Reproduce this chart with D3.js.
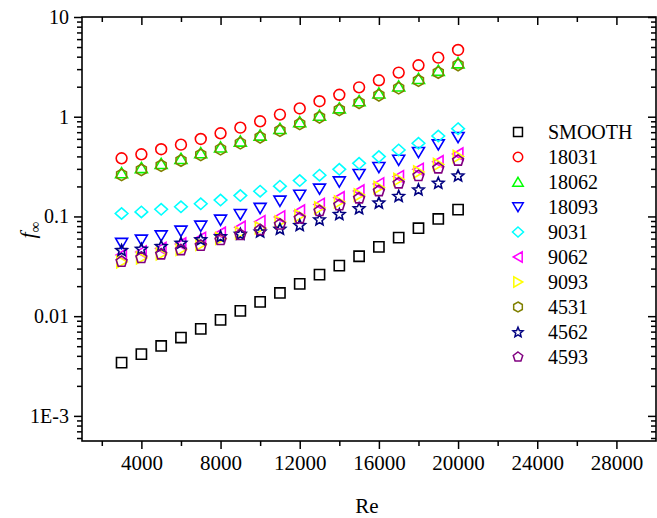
<!DOCTYPE html>
<html>
<head>
<meta charset="utf-8">
<script src="https://cdn.jsdelivr.net/npm/d3@7"></script>
<style>
    body { margin: 0; background: #fff; }
    svg { display: block; }
</style>
</head>
<body>
<svg id="chart"></svg>
<script>
// data
const reValues = [3000, 4000, 5000, 6000, 7000, 8000, 9000, 10000, 11000, 12000, 13000, 14000, 15000, 16000, 17000, 18000, 19000, 20000];

const smooth = [0.00342, 0.00416, 0.00503, 0.00610, 0.00745, 0.00917, 0.0113, 0.0139, 0.0171, 0.0211, 0.0261, 0.0321, 0.0399, 0.0495, 0.0613, 0.0762, 0.0944, 0.117];
const s18031 = [0.383, 0.420, 0.472, 0.525, 0.598, 0.682, 0.777, 0.900, 1.05, 1.21, 1.43, 1.66, 1.97, 2.32, 2.77, 3.28, 3.91, 4.67];
const s18062 = [0.273, 0.307, 0.338, 0.380, 0.433, 0.494, 0.567, 0.651, 0.759, 0.886, 1.03, 1.22, 1.44, 1.72, 2.02, 2.41, 2.90, 3.45];
const s18093 = [0.0539, 0.0581, 0.0642, 0.0716, 0.0803, 0.0922, 0.105, 0.121, 0.143, 0.164, 0.189, 0.223, 0.265, 0.311, 0.368, 0.440, 0.525, 0.622];
const s9031 = [0.107, 0.111, 0.118, 0.125, 0.134, 0.146, 0.162, 0.179, 0.201, 0.229, 0.259, 0.297, 0.341, 0.398, 0.464, 0.542, 0.641, 0.759];
const s9062 = [0.0411, 0.0441, 0.0478, 0.0530, 0.0604, 0.0679, 0.0780, 0.0887, 0.0989, 0.1135, 0.132, 0.154, 0.180, 0.212, 0.251, 0.297, 0.354, 0.423];
const s9093 = [0.0350, 0.0384, 0.0421, 0.0467, 0.0524, 0.0602, 0.0684, 0.0767, 0.0881, 0.102, 0.122, 0.140, 0.164, 0.195, 0.235, 0.279, 0.332, 0.400];
const s4531 = [0.261, 0.293, 0.323, 0.363, 0.414, 0.472, 0.542, 0.622, 0.725, 0.846, 0.987, 1.17, 1.38, 1.64, 1.93, 2.30, 2.77, 3.30];
const s4562 = [0.0461, 0.0475, 0.0506, 0.0546, 0.0591, 0.0633, 0.0671, 0.0707, 0.0753, 0.0822, 0.0937, 0.106, 0.121, 0.138, 0.161, 0.187, 0.218, 0.258];
const s4593 = [0.0352, 0.0384, 0.0418, 0.0461, 0.0510, 0.0581, 0.0653, 0.0732, 0.0831, 0.0959, 0.1135, 0.130, 0.152, 0.180, 0.215, 0.255, 0.304, 0.364];

const seriesNames = ["SMOOTH", "18031", "18062", "18093", "9031", "9062", "9093", "4531", "4562", "4593"];
const seriesValues = [smooth, s18031, s18062, s18093, s9031, s9062, s9093, s4531, s4562, s4593];
const seriesColors = ["#000000", "#ff0000", "#00ff00", "#0000ff", "#00ffff", "#ff00ff", "#ffff00", "#808000", "#000080", "#800080"];
const seriesShapes = ["square", "circle", "triUp", "triDown", "diamond", "triLeft", "triRight", "hexagon", "star", "pentagon"];

const xMajorTicks = [4000, 8000, 12000, 16000, 20000, 24000, 28000];
const xMinorTicks = [2000, 6000, 10000, 14000, 18000, 22000, 26000];
const yMajorTicks = [0.001, 0.01, 0.1, 1, 10];
const yTickLabels = ["1E-3", "0.01", "0.1", "1", "10"];

const width = 657, height = 518;
const plotLeft = 82, plotRight = 656, plotTop = 17, plotBottom = 441;
const serif = "Liberation Serif";

const svg = d3.select("#chart")
    .attr("width", width)
    .attr("height", height)
    .attr("font-family", serif);

const x = d3.scaleLinear().domain([1000, 30000]).range([plotLeft, plotRight]);
const y = d3.scaleLog().domain([5.6e-4, 10]).range([plotBottom, plotTop]);

// minor log ticks 2..9 per decade
const yMinorTicks = [];
[1e-4, 1e-3, 1e-2, 1e-1, 1].forEach(dec => {
    for (let k = 2; k <= 9; k++) {
        const v = dec * k;
        if (v >= y.domain()[0] && v <= y.domain()[1]) yMinorTicks.push(v);
    }
});

// marker path builder
function poly(pts) {
    return "M" + pts.map(p => p[0].toFixed(2) + "," + p[1].toFixed(2)).join("L") + "Z";
}
function regular(n, r, startDeg) {
    const pts = [];
    for (let k = 0; k < n; k++) {
        const a = (startDeg + k * 360 / n) * Math.PI / 180;
        pts.push([r * Math.cos(a), r * Math.sin(a)]);
    }
    return pts;
}
function shapePath(shape, s) {
    const h = s / 2;
    switch (shape) {
        case "square": return poly([[-h * 0.85, -h * 0.85], [h * 0.85, -h * 0.85], [h * 0.85, h * 0.85], [-h * 0.85, h * 0.85]]);
        case "circle": return d3.symbol(d3.symbolCircle, Math.PI * (h * 0.9) * (h * 0.9))();
        case "triUp": return poly([[0, -h * 0.9], [h, h * 0.8], [-h, h * 0.8]]);
        case "triDown": return poly([[0, h * 0.9], [h, -h * 0.8], [-h, -h * 0.8]]);
        case "triLeft": return poly([[-h * 0.9, 0], [h * 0.8, -h], [h * 0.8, h]]);
        case "triRight": return poly([[h * 0.9, 0], [-h * 0.8, -h], [-h * 0.8, h]]);
        case "diamond": return poly([[0, -h * 0.95], [h * 1.05, 0], [0, h * 0.95], [-h * 1.05, 0]]);
        case "hexagon": return poly(regular(6, h * 0.95, -90));
        case "pentagon": return poly(regular(5, h * 0.95, -90));
        case "star": {
            const pts = [];
            for (let k = 0; k < 10; k++) {
                const r = k % 2 === 0 ? h : h * 0.45;
                const a = (-90 + k * 36) * Math.PI / 180;
                pts.push([r * Math.cos(a), r * Math.sin(a) + h * 0.1]);
            }
            return poly(pts);
        }
    }
}

// axes
const axisColor = "#000";
const gAxes = svg.append("g");

function styleAxis(g) {
    g.attr("font-family", serif);
    g.select(".domain").remove();
    g.selectAll("line").attr("stroke", axisColor).attr("stroke-width", 1.5);
}

// bottom
gAxes.append("g")
    .attr("transform", `translate(0,${plotBottom})`)
    .call(d3.axisBottom(x).tickValues(xMajorTicks).tickSize(8).tickFormat(d3.format("d")))
    .call(styleAxis)
    .call(g => g.selectAll("text")
        .attr("y", 14)
        .attr("dy", "0.71em")
        .attr("font-family", serif)
        .attr("font-size", 21)
        .attr("fill", "#000"));
gAxes.append("g")
    .attr("transform", `translate(0,${plotBottom})`)
    .call(d3.axisBottom(x).tickValues(xMinorTicks).tickSize(5).tickFormat(""))
    .call(styleAxis);

// top (ticks inward)
gAxes.append("g")
    .attr("transform", `translate(0,${plotTop})`)
    .call(d3.axisTop(x).tickValues(xMajorTicks).tickSize(-8).tickFormat(""))
    .call(styleAxis);
gAxes.append("g")
    .attr("transform", `translate(0,${plotTop})`)
    .call(d3.axisTop(x).tickValues(xMinorTicks).tickSize(-5).tickFormat(""))
    .call(styleAxis);

// left
gAxes.append("g")
    .attr("transform", `translate(${plotLeft},0)`)
    .call(d3.axisLeft(y).tickValues(yMajorTicks).tickSize(8)
        .tickFormat(d => yTickLabels[yMajorTicks.indexOf(d)]))
    .call(styleAxis)
    .call(g => g.selectAll("text")
        .attr("x", -13)
        .attr("font-family", serif)
        .attr("font-size", 20)
        .attr("fill", "#000"));
gAxes.append("g")
    .attr("transform", `translate(${plotLeft},0)`)
    .call(d3.axisLeft(y).tickValues(yMinorTicks).tickSize(5).tickFormat(""))
    .call(styleAxis);

// right (ticks inward)
gAxes.append("g")
    .attr("transform", `translate(${plotRight},0)`)
    .call(d3.axisRight(y).tickValues(yMajorTicks).tickSize(-8).tickFormat(""))
    .call(styleAxis);
gAxes.append("g")
    .attr("transform", `translate(${plotRight},0)`)
    .call(d3.axisRight(y).tickValues(yMinorTicks).tickSize(-5).tickFormat(""))
    .call(styleAxis);

// frame
svg.append("rect")
    .attr("x", plotLeft)
    .attr("y", plotTop)
    .attr("width", plotRight - plotLeft)
    .attr("height", plotBottom - plotTop)
    .attr("fill", "none")
    .attr("stroke", axisColor)
    .attr("stroke-width", 1.6);

// data markers
const gData = svg.append("g");
seriesNames.forEach((name, si) => {
    const pts = seriesValues[si].map((v, i) => [reValues[i], v]);
    gData.append("g")
        .attr("class", "series")
        .selectAll("path")
        .data(pts)
        .join("path")
        .attr("transform", d => `translate(${x(d[0])},${y(d[1])})`)
        .attr("d", shapePath(seriesShapes[si], 12))
        .attr("fill", "none")
        .attr("stroke", seriesColors[si])
        .attr("stroke-width", 1.6);
});

// legend
const legend = svg.append("g").attr("transform", "translate(518,132)");
const rows = legend.selectAll("g.row")
    .data(seriesNames)
    .join("g")
    .attr("class", "row")
    .attr("transform", (d, i) => `translate(0,${i * 25})`);
rows.append("path")
    .attr("d", (d, i) => shapePath(seriesShapes[i], 10.5))
    .attr("fill", "none")
    .attr("stroke", (d, i) => seriesColors[i])
    .attr("stroke-width", 1.5);
rows.append("text")
    .attr("x", 30)
    .attr("y", 6.5)
    .attr("font-family", serif)
    .attr("font-size", 20)
    .attr("fill", "#000")
    .text(d => d);

// axis titles
svg.append("text")
    .attr("x", (plotLeft + plotRight) / 2 - 2)
    .attr("y", 513)
    .attr("text-anchor", "middle")
    .attr("font-family", serif)
    .attr("font-size", 21)
    .text("Re");

const yTitle = svg.append("text")
    .attr("transform", "translate(35,230) rotate(-90)")
    .attr("text-anchor", "middle")
    .attr("font-family", serif)
    .attr("font-size", 22);
yTitle.append("tspan").attr("font-style", "italic").text("f");
yTitle.append("tspan").attr("dy", 5).attr("font-size", 15).text("∞");
</script>
</body>
</html>
